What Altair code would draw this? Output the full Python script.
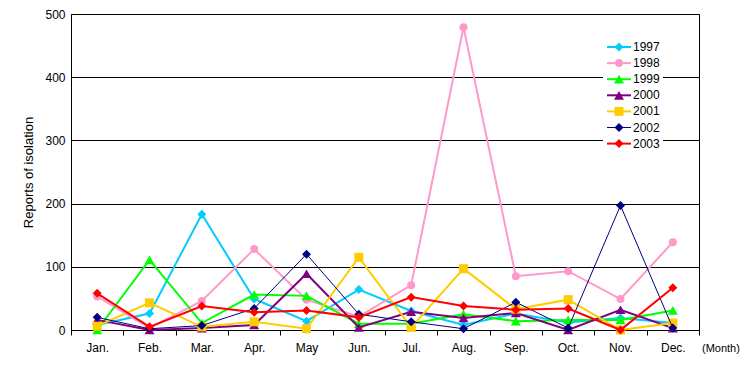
import altair as alt
import pandas as pd

months = ["Jan.", "Feb.", "Mar.", "Apr.", "May", "Jun.", "Jul.", "Aug.", "Sep.", "Oct.", "Nov.", "Dec."]
years = ["1997", "1998", "1999", "2000", "2001", "2002", "2003"]

v1997 = [8, 26, 183, 49, 14, 64, 30, 8, 26, 12, 19, 11]
v1998 = [53, 3, 46, 128, 48, 21, 71, 479, 85, 93, 49, 139]
v1999 = [0, 111, 11, 56, 54, 10, 10, 25, 14, 16, 16, 31]
v2000 = [16, 0, 3, 8, 89, 4, 29, 19, 27, 0, 32, 3]
v2001 = [6, 43, 5, 13, 2, 115, 4, 97, 33, 48, 0, 11]
v2002 = [20, 2, 7, 34, 120, 25, 13, 2, 44, 3, 197, 3]
v2003 = [58, 5, 38, 28, 31, 20, 52, 38, 32, 34, 0, 67]
series = [v1997, v1998, v1999, v2000, v2001, v2002, v2003]

colors = ["#00CCFF", "#FF99CC", "#00FF00", "#800080", "#FFCC00", "#000080", "#FF0000"]
shapes = ["diamond", "circle", "triangle-up", "triangle-up", "square", "diamond", "diamond"]
line_widths = [2, 2, 2, 2, 2, 1, 2]
marker_sizes = [81, 64, 100, 100, 81, 81, 81]

y_ticks = [0, 100, 200, 300, 400, 500]

rows = []
for yr, vals in zip(years, series):
    for m, v in zip(months, vals):
        rows.append({"year": yr, "month": m, "value": v})
df = pd.DataFrame(rows)

W, H = 628, 316
FONT = "Liberation Sans"

xenc = alt.X(
    "month:N",
    sort=months,
    scale=alt.Scale(type="band", paddingInner=0, paddingOuter=0),
    axis=alt.Axis(title=None, tickBand="extent", labelAngle=0, labelPadding=7,
                  tickSize=5, tickColor="black", grid=False),
)
yenc = alt.Y(
    "value:Q",
    scale=alt.Scale(domain=[0, 500], nice=False),
    axis=alt.Axis(values=y_ticks, title="Reports of isolation", grid=True,
                  gridColor="black", gridWidth=1, ticks=False, labelPadding=6,
                  titlePadding=9),
)

one = pd.DataFrame({"a": [0]})

layers = []
# white background for the legend box
layers.append(
    alt.Chart(one).mark_rect(color="white").encode(
        x=alt.value(532), x2=alt.value(592), y=alt.value(24), y2=alt.value(138)
    )
)

for i, yr in enumerate(years):
    base = alt.Chart(df).transform_filter(alt.datum.year == yr)
    layers.append(base.mark_line(color=colors[i], strokeWidth=line_widths[i]).encode(x=xenc, y=yenc))
    layers.append(
        base.mark_point(shape=shapes[i], filled=True, color=colors[i], size=marker_sizes[i], opacity=1).encode(
            x=xenc, y=yenc
        )
    )

# legend
for i, yr in enumerate(years):
    ly = 33 + 16.1 * i
    layers.append(
        alt.Chart(one).mark_rule(color=colors[i], strokeWidth=line_widths[i]).encode(
            x=alt.value(536), x2=alt.value(560), y=alt.value(ly)
        )
    )
    layers.append(
        alt.Chart(one).mark_point(shape=shapes[i], filled=True, color=colors[i], size=marker_sizes[i], opacity=1).encode(
            x=alt.value(548), y=alt.value(ly)
        )
    )
    layers.append(
        alt.Chart(one).mark_text(align="left", baseline="middle", font=FONT, fontSize=12, color="black").encode(
            x=alt.value(562), y=alt.value(ly), text=alt.value(yr)
        )
    )

# (Month) label
layers.append(
    alt.Chart(one).mark_text(align="left", baseline="middle", font=FONT, fontSize=11, color="black").encode(
        x=alt.value(631), y=alt.value(335), text=alt.value("(Month)")
    )
)

chart = (
    alt.layer(*layers)
    .properties(
        width=W,
        height=H,
        autosize=alt.AutoSizeParams(type="none"),
        padding={"left": 63, "top": 6, "right": 45, "bottom": 40},
    )
    .configure_view(stroke="black", strokeWidth=1)
    .configure_axis(
        domainColor="black",
        domainWidth=1,
        labelColor="black",
        labelFont=FONT,
        labelFontSize=12,
        titleFont=FONT,
        titleFontSize=13,
        titleFontWeight="normal",
        titleColor="black",
    )
)

chart.save("out.html", embed_options={"renderer": "svg", "actions": False})
